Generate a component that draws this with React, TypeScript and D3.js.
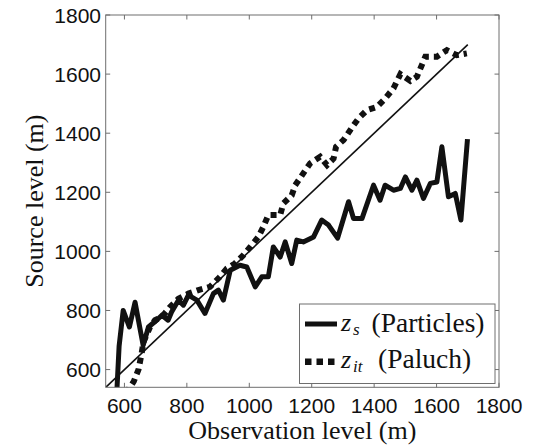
import React from "react";
import * as d3 from "d3";

const xTicks = [600, 800, 1000, 1200, 1400, 1600, 1800];
const yTicks = [600, 800, 1000, 1200, 1400, 1600, 1800];

const zsX = [573, 583, 596, 616, 634, 660, 677, 703, 720, 740, 751, 773, 789, 805, 832, 858, 885, 901, 917, 939, 970, 992, 1019, 1040, 1061, 1077, 1099, 1115, 1136, 1152, 1173, 1206, 1232, 1254, 1283, 1318, 1334, 1361, 1398, 1419, 1435, 1462, 1484, 1500, 1521, 1537, 1558, 1580, 1601, 1617, 1638, 1660, 1678, 1699];
const zsY = [470, 680, 800, 744, 828, 682, 744, 767, 784, 767, 795, 835, 818, 852, 835, 790, 857, 869, 835, 936, 953, 947, 880, 914, 914, 1015, 981, 1032, 959, 1038, 1032, 1049, 1106, 1089, 1045, 1168, 1111, 1111, 1224, 1173, 1224, 1207, 1213, 1252, 1207, 1241, 1179, 1230, 1235, 1354, 1185, 1196, 1106, 1380];

const zitX = [605, 630, 645, 655, 661, 682, 698, 720, 746, 773, 805, 837, 874, 906, 928, 954, 981, 1003, 1029, 1045, 1061, 1099, 1109, 1136, 1147, 1173, 1195, 1227, 1249, 1270, 1278, 1302, 1334, 1350, 1377, 1409, 1436, 1462, 1484, 1516, 1537, 1564, 1601, 1633, 1665, 1697];
const zitY = [520, 560, 600, 654, 693, 744, 767, 778, 812, 840, 857, 869, 880, 914, 942, 959, 987, 1015, 1049, 1083, 1123, 1123, 1162, 1190, 1224, 1264, 1298, 1320, 1292, 1314, 1354, 1377, 1427, 1450, 1478, 1489, 1518, 1552, 1600, 1577, 1591, 1659, 1659, 1681, 1664, 1670];

const refX = [540, 1700];
const refY = [540, 1700];

const W = 536, H = 447;
const L = 105.7, R = 499, T = 15, B = 387.3;

export default function App() {
  const x = d3.scaleLinear().domain([540, 1800]).range([L, R]);
  const y = d3.scaleLinear().domain([540, 1800]).range([B, T]);
  const line = d3.line<[number, number]>().x(d => x(d[0])).y(d => y(d[1]));
  const zs = zsX.map((v, i) => [v, zsY[i]] as [number, number]);
  const zit = zitX.map((v, i) => [v, zitY[i]] as [number, number]);
  const ref = refX.map((v, i) => [v, refY[i]] as [number, number]);
  const axisColor = "#6e6e6e";
  const tk = 4.5;
  const serif = "'Liberation Serif', 'Times New Roman', serif";
  const sans = "'Liberation Sans', Arial, sans-serif";
  return (
    <svg width={W} height={H} style={{ position: "absolute", left: 0, top: 0, background: "#fff" }}>
      <defs>
        <clipPath id="plotclip">
          <rect x={L} y={T} width={R - L} height={B - T} />
        </clipPath>
      </defs>
      <rect x={0} y={0} width={W} height={H} fill="#fff" />
      <g clipPath="url(#plotclip)">
        <path d={line(ref) || ""} fill="none" stroke="#111" strokeWidth={1.6} />
        <path d={line(zs) || ""} fill="none" stroke="#111" strokeWidth={5} strokeLinejoin="round" />
        <path d={line(zit) || ""} fill="none" stroke="#111" strokeWidth={6} strokeDasharray="6 5" />
      </g>
      {/* frame */}
      <rect x={L} y={T} width={R - L} height={B - T} fill="none" stroke={axisColor} strokeWidth={1} />
      {xTicks.map(t => (
        <g key={"x" + t}>
          <line x1={x(t)} x2={x(t)} y1={B} y2={B - tk} stroke={axisColor} />
          <line x1={x(t)} x2={x(t)} y1={T} y2={T + tk} stroke={axisColor} />
          <text x={x(t)} y={413} textAnchor="middle" fontFamily={sans} fontSize={21} fill="#111">{t}</text>
        </g>
      ))}
      {yTicks.map(t => (
        <g key={"y" + t}>
          <line x1={L} x2={L + tk} y1={y(t)} y2={y(t)} stroke={axisColor} />
          <line x1={R} x2={R - tk} y1={y(t)} y2={y(t)} stroke={axisColor} />
          <text x={101} y={y(t)} dy="0.36em" textAnchor="end" fontFamily={sans} fontSize={21} fill="#111">{t}</text>
        </g>
      ))}
      <text x={(L + R) / 2} y={439} textAnchor="middle" fontFamily={serif} fontSize={26} fill="#111">Observation level (m)</text>
      <text transform={`translate(43,${(T + B) / 2}) rotate(-90)`} textAnchor="middle" fontFamily={serif} fontSize={26} fill="#111">Source level (m)</text>
      {/* legend */}
      <rect x={299.5} y={304} width={195.5} height={79.5} fill="#fff" stroke={axisColor} strokeWidth={1} />
      <line x1={305} x2={337} y1={324} y2={324} stroke="#111" strokeWidth={5} />
      <line x1={305} x2={337} y1={361.7} y2={361.7} stroke="#111" strokeWidth={6.5} strokeDasharray="6.5 5" />
      <text x={341} y={331} fontFamily={serif} fontSize={26} fontStyle="italic" fill="#111">z</text>
      <text x={353} y={335} fontFamily={serif} fontSize={17} fontStyle="italic" fill="#111">s</text>
      <text x={371.5} y={331.5} fontFamily={serif} fontSize={27.5} fill="#111">(Particles)</text>
      <text x={341} y={368} fontFamily={serif} fontSize={26} fontStyle="italic" fill="#111">z</text>
      <text x={353} y={372} fontFamily={serif} fontSize={17} fontStyle="italic" fill="#111">it</text>
      <text x={378} y={368.3} fontFamily={serif} fontSize={27.5} fill="#111">(Paluch)</text>
    </svg>
  );
}
